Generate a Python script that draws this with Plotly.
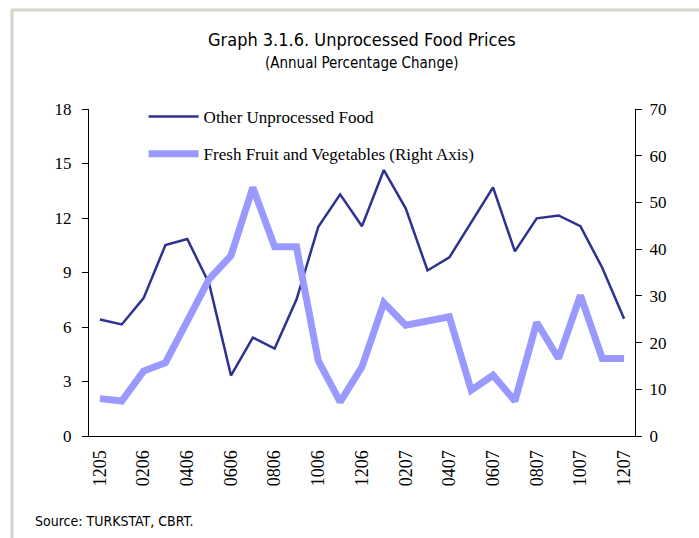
import plotly.graph_objects as go

labels_all = ["1205", "0106", "0206", "0306", "0406", "0506", "0606", "0706", "0806", "0906",
              "1006", "1106", "1206", "0107", "0207", "0307", "0407", "0507", "0607", "0707",
              "0807", "0907", "1007", "1107", "1207"]
other_unprocessed = [6.41, 6.14, 7.59, 10.51, 10.84, 8.40, 3.33, 5.42, 4.81, 7.51,
                     11.52, 13.30, 11.55, 14.64, 12.53, 9.11, 9.83, 11.79, 13.69, 10.16,
                     11.98, 12.14, 11.55, 9.26, 6.45]
fresh_fruit_veg = [8.0, 7.5, 13.9, 15.7, 24.6, 33.6, 38.6, 53.2, 40.5, 40.5,
                   16.1, 7.3, 14.8, 28.5, 23.7, 24.6, 25.5, 9.8, 13.0, 7.5,
                   24.3, 16.6, 30.1, 16.6, 16.6]
left_ticks = [0, 3, 6, 9, 12, 15, 18]
right_ticks = [0, 10, 20, 30, 40, 50, 60, 70]

x_idx = list(range(len(labels_all)))
label_pos = x_idx[::2]
label_txt = labels_all[::2]
tick_pos = [i - 0.5 for i in label_pos]

serif = "Liberation Serif, Times New Roman, serif"
narrow = "Liberation Sans Narrow, DejaVu Sans Condensed, Arial Narrow, Liberation Sans, sans-serif"

fig = go.Figure()
fig.add_trace(go.Scatter(x=x_idx, y=other_unprocessed, mode="lines",
                         name="Other Unprocessed Food", legendgroup="a",
                         line=dict(color="#2e3192", width=2.5), xaxis="x", yaxis="y"))
fig.add_trace(go.Scatter(x=x_idx, y=fresh_fruit_veg, mode="lines",
                         name="Fresh Fruit and Vegetables (Right Axis)", legendgroup="b",
                         line=dict(color="#9999ff", width=7), xaxis="x", yaxis="y2"))

fig.update_layout(
    width=699, height=538,
    margin=dict(l=89, r=64, t=109, b=102),
    paper_bgcolor="white", plot_bgcolor="white",
    showlegend=True,
    legend=dict(x=0.1, y=1.0 + 10 / 327, xanchor="left", yanchor="top",
                bgcolor="rgba(0,0,0,0)", font=dict(family=serif, size=17, color="black"),
                tracegroupgap=12, itemwidth=50),
    xaxis=dict(range=[-0.5, 24.5], tickmode="array", tickvals=label_pos, ticktext=label_txt,
               tickangle=-90, ticks="", showgrid=False, zeroline=False,
               showline=True, linecolor="black", linewidth=1, ticklabelstandoff=6,
               tickfont=dict(family=serif, size=18, color="black"), fixedrange=True),
    xaxis2=dict(range=[-0.5, 24.5], overlaying="x", anchor="y", side="bottom",
                tickmode="array", tickvals=tick_pos, showticklabels=False,
                ticks="outside", ticklen=6, tickcolor="black", showgrid=False,
                zeroline=False, showline=False),
    yaxis=dict(range=[0, 18], tickmode="array", tickvals=left_ticks,
               ticks="outside", ticklen=6, tickcolor="black", showgrid=False, zeroline=False,
               showline=True, linecolor="black", linewidth=1, ticklabelstandoff=7,
               tickfont=dict(family=serif, size=17, color="black")),
    yaxis2=dict(range=[0, 70], tickmode="array", tickvals=right_ticks, overlaying="y",
                side="right", anchor="x", ticks="outside", ticklen=6, tickcolor="black",
                showgrid=False, zeroline=False, showline=True, linecolor="black", linewidth=1,
                ticklabelstandoff=4,
                tickfont=dict(family=serif, size=17, color="black")),
    yaxis3=dict(range=[0, 70], tickmode="array", tickvals=right_ticks, overlaying="y",
                side="right", anchor="x", ticks="inside", ticklen=6, tickcolor="black",
                showticklabels=False, showgrid=False, zeroline=False, showline=False),
    annotations=[
        dict(text="Graph 3.1.6. Unprocessed Food Prices", xref="paper", yref="paper",
             x=(362 - 89) / 546, y=1.0 + (109 - 40) / 327, xanchor="center", yanchor="middle",
             showarrow=False, font=dict(family=narrow, size=18, color="black")),
        dict(text="(Annual Percentage Change)", xref="paper", yref="paper",
             x=(362 - 89) / 546, y=1.0 + (109 - 63) / 327, xanchor="center", yanchor="middle",
             showarrow=False, font=dict(family=narrow, size=15, color="black")),
        dict(text="Source: TURKSTAT, CBRT.", xref="paper", yref="paper",
             x=(33 - 89) / 546, y=-(521 - 436) / 327, xanchor="left", yanchor="middle",
             showarrow=False, font=dict(family=narrow, size=14, color="black")),
    ],
    shapes=[
        dict(type="rect", xref="paper", yref="paper",
             x0=(12 - 89) / 546, x1=(760 - 89) / 546,
             y0=-(600 - 436) / 327, y1=(436 - 10) / 327,
             line=dict(color="#d8d4cb", width=3), fillcolor="rgba(0,0,0,0)", layer="below"),
    ],
)

fig.write_html("out.html", config={"displayModeBar": False},
               post_script="document.body.style.margin='0';")
